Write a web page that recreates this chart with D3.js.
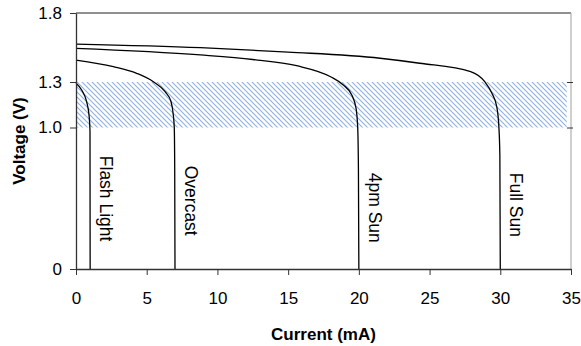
<!DOCTYPE html>
<html>
<head>
<meta charset="utf-8">
<script src="https://cdn.jsdelivr.net/npm/d3@7"></script>
<style>
  body { margin: 0; background: #fff; }
  text { font-family: "Liberation Sans", Arial, sans-serif; fill: #000; }
</style>
</head>
<body>
<div id="graph"></div>
<script>
// I-V curves of a small solar cell under different light
var seriesNames = ["Flash Light", "Overcast", "4pm Sun", "Full Sun"];

var flashI = [0, 0.4, 0.75, 0.92, 0.99, 1.0];
var flashV = [1.291, 1.247, 1.170, 1.082, 0.970, 0];

var overcastI = [0, 2.64, 4.29, 5.47, 6.3, 6.72, 6.88, 6.95, 6.98, 7];
var overcastV = [1.459, 1.411, 1.363, 1.302, 1.236, 1.170, 1.082, 0.996, 0.7, 0];

var pm4I = [0, 8.8, 12.5, 15.6, 18, 18.9, 19.5, 19.8, 19.92, 19.97, 20];
var pm4V = [1.544, 1.496, 1.463, 1.418, 1.338, 1.280, 1.214, 1.127, 0.996, 0.7, 0];

var fullI = [0, 8.8, 15, 21.5, 24.3, 27.9, 28.9, 29.4, 29.75, 29.9, 29.97, 30];
var fullV = [1.575, 1.549, 1.517, 1.472, 1.436, 1.375, 1.302, 1.227, 1.137, 1.005, 0.8, 0];

// top of each rotated label, in volts
var labelTopV = [0.80, 0.73, 0.68, 0.68];

// operating band (hatched)
var bandV = [1.0, 1.3];
var bandI = [0, 34.7];

var xTicks = [0, 5, 10, 15, 20, 25, 30, 35];
var yTicks = [0, 1.0, 1.3, 1.8];

var width = 581, height = 346;
var margins = {top: 13, right: 10, bottom: 77, left: 76};

var svg = d3.select('#graph')
  .append('svg')
  .attr('width', width)
  .attr('height', height);

var x = d3.scaleLinear()
  .domain([0, 35])
  .range([margins.left, width - margins.right]);

/* the value axis is hand-made in the original, so it is piecewise */
var y = d3.scaleLinear()
  .domain([0, 1.0, 1.3, 1.8])
  .range([269, 127.5, 82, margins.top]);

var defs = svg.append('defs');
defs.append('pattern')
  .attr('id', 'hatch')
  .attr('patternUnits', 'userSpaceOnUse')
  .attr('width', 5)
  .attr('height', 5)
  .append('path')
  .attr('d', 'M-1,-1 L6,6 M-1,4 L1,6 M4,-1 L6,1')
  .attr('stroke', '#8eb0e2')
  .attr('stroke-width', 1.1);

svg.append('rect')
  .attr('x', x(bandI[0]))
  .attr('y', y(bandV[1]))
  .attr('width', x(bandI[1]) - x(bandI[0]))
  .attr('height', y(bandV[0]) - y(bandV[1]))
  .attr('fill', 'url(#hatch)');

// plot frame: top and right
svg.append('line')
  .attr('x1', x(0)).attr('x2', x(35))
  .attr('y1', y(1.8)).attr('y2', y(1.8))
  .attr('stroke', '#222').attr('stroke-width', 1);
svg.append('line')
  .attr('x1', x(35)).attr('x2', x(35))
  .attr('y1', y(1.8)).attr('y2', y(0))
  .attr('stroke', '#a0a0a0').attr('stroke-width', 1);

/* the curves */
var lineFunc = d3.line()
  .x(function(d) { return x(d[0]); })
  .y(function(d) { return y(d[1]); })
  .curve(d3.curveMonotoneX);

var curves = [[flashI, flashV], [overcastI, overcastV], [pm4I, pm4V], [fullI, fullV]];
curves.forEach(function(c) {
  var pts = c[0].map(function(d, i) { return [d, c[1][i]]; });
  svg.append('path')
    .attr('d', lineFunc(pts))
    .attr('fill', 'none')
    .attr('stroke', '#000')
    .attr('stroke-width', 1.3);
});

// labels run down beside each vertical drop
curves.forEach(function(c, i) {
  var iSc = c[0][c[0].length - 1];
  var lx = x(iSc) + 16, ly = y(labelTopV[i]);
  svg.append('text')
    .attr('transform', 'translate(' + lx + ',' + ly + ') rotate(90)')
    .attr('dy', '0.35em')
    .style('font-size', '17.5px')
    .text(seriesNames[i]);
});

/* axes */
var xAxis = svg.append('g')
  .attr('transform', 'translate(0,' + y(0) + ')')
  .call(d3.axisBottom(x).tickValues(xTicks).tickSize(6).tickSizeOuter(0).tickPadding(17));

var yAxis = svg.append('g')
  .attr('transform', 'translate(' + x(0) + ',0)')
  .call(d3.axisLeft(y).tickValues(yTicks).tickSize(6).tickSizeOuter(0).tickPadding(8)
    .tickFormat(function(d) { return d === 0 ? '0' : d.toFixed(1); }));

[xAxis, yAxis].forEach(function(a) {
  a.selectAll('text').style('font-size', '17px').style('font-family', '"Liberation Sans", Arial, sans-serif').attr('fill', '#000');
  a.selectAll('line').attr('stroke', '#333');
  a.select('.domain').attr('stroke', '#333').attr('stroke-width', 1.3);
});

// little marks on the right edge at the band limits
svg.append('g')
  .attr('transform', 'translate(' + (x(35) + 2) + ',0)')
  .call(d3.axisLeft(y).tickValues(bandV).tickSize(6).tickFormat(''))
  .call(function(g) { g.select('.domain').remove(); })
  .selectAll('line').attr('stroke', '#333');

svg.append('text')
  .attr('x', (x(0) + x(35)) / 2)
  .attr('y', 340)
  .attr('text-anchor', 'middle')
  .style('font-size', '17px')
  .style('font-weight', 'bold')
  .text('Current (mA)');

svg.append('text')
  .attr('transform', 'translate(19,' + 141 + ') rotate(-90)')
  .attr('text-anchor', 'middle')
  .attr('dy', '0.35em')
  .style('font-size', '17px')
  .style('font-weight', 'bold')
  .text('Voltage (V)');
</script>
</body>
</html>
